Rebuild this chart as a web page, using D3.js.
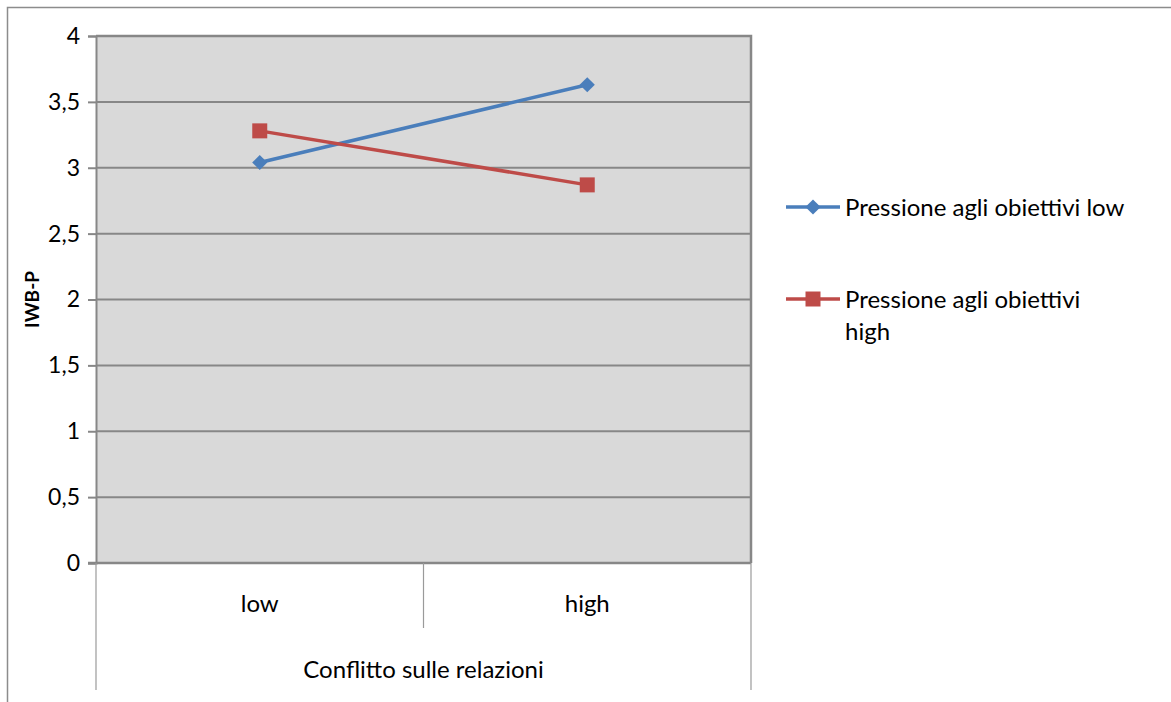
<!doctype html>
<html lang="it">
<head>
  <meta charset="UTF-8">
  <script src="https://cdn.jsdelivr.net/npm/d3@7"></script>
  <title>IWB-P</title>
  <style>
    body{ margin:0; background:#fff; }
    svg text{ font-family: Lato, "Open Sans", sans-serif; fill:#000; }
  </style>
</head>
<body>
  <div class="chart"></div>
  <script>
    // data
    const categories = ['low', 'high'];
    const seriesNames = ['Pressione agli obiettivi low', 'Pressione agli obiettivi high'];
    const lowValues = [3.04, 3.63];
    const highValues = [3.28, 2.87];
    const yTicks = [0, 0.5, 1, 1.5, 2, 2.5, 3, 3.5, 4];
    const xTitle = 'Conflitto sulle relazioni';
    const yTitle = 'IWB-P';

    const W = 1171, H = 702;
    const plot = {x0: 96, x1: 751, y0: 36, y1: 563};
    const gridColor = '#878787';

    const svg = d3.select('.chart').append('svg')
      .attr('width', W).attr('height', H);

    // outer chart border (only top/left visible)
    svg.append('path').attr('d', `M7.5,${H} V7.5 H${W}`)
      .attr('fill', 'none').attr('stroke', '#8c8c8c').attr('stroke-width', 1.5);

    const x = d3.scaleBand().domain(categories).range([plot.x0, plot.x1]);
    const y = d3.scaleLinear().domain([0, 4]).range([plot.y1, plot.y0]);
    const fmt = d => String(d).replace('.', ',');

    svg.append('rect')
      .attr('x', plot.x0).attr('y', plot.y0)
      .attr('width', plot.x1 - plot.x0).attr('height', plot.y1 - plot.y0)
      .attr('fill', '#d9d9d9');

    // gridlines
    svg.append('g').selectAll('line').data(yTicks.filter(d => d > 0)).enter().append('line')
      .attr('x1', plot.x0).attr('x2', plot.x1)
      .attr('y1', d => y(d)).attr('y2', d => y(d))
      .attr('stroke', gridColor).attr('stroke-width', 2);

    // plot border right/top
    svg.append('path').attr('d', `M${plot.x0},${plot.y0} H${plot.x1} V${plot.y1}`)
      .attr('fill', 'none').attr('stroke', gridColor).attr('stroke-width', 2.5);

    // y axis
    const yAxis = d3.axisLeft(y).tickValues(yTicks).tickFormat(fmt).tickSize(8).tickPadding(8);
    const gy = svg.append('g').attr('transform', `translate(${plot.x0},0)`).call(yAxis);
    gy.select('.domain').attr('stroke', gridColor).attr('stroke-width', 2);
    gy.selectAll('.tick line').attr('stroke', gridColor).attr('stroke-width', 2);
    gy.selectAll('.tick text').attr('font-size', 23).style('font-family', 'Lato, sans-serif');

    // x axis line
    svg.append('line').attr('x1', plot.x0 - 8).attr('x2', plot.x1)
      .attr('y1', plot.y1).attr('y2', plot.y1)
      .attr('stroke', gridColor).attr('stroke-width', 2.5);

    // category separators
    const bounds = [plot.x0, x(categories[1]), plot.x1];
    svg.append('g').selectAll('line').data(bounds).enter().append('line')
      .attr('x1', d => d).attr('x2', d => d)
      .attr('y1', plot.y1).attr('y2', (d, i) => i === 1 ? 628 : 690)
      .attr('stroke', '#9a9a9a').attr('stroke-width', 1.2);

    svg.append('g').selectAll('text').data(categories).enter().append('text')
      .attr('x', d => x(d) + x.bandwidth() / 2).attr('y', 612)
      .attr('text-anchor', 'middle').attr('font-size', 24).text(d => d);

    svg.append('text').attr('x', (plot.x0 + plot.x1) / 2).attr('y', 678)
      .attr('text-anchor', 'middle').attr('font-size', 24).text(xTitle);

    svg.append('text').attr('transform', `translate(39,${(plot.y0 + plot.y1) / 2}) rotate(-90)`)
      .attr('text-anchor', 'middle').attr('font-size', 19).attr('font-weight', 'bold').text(yTitle);

    // series
    const series = [
      {name: seriesNames[0], values: lowValues, color: '#4a7ebb', rot: 45, size: 115},
      {name: seriesNames[1], values: highValues, color: '#be4b48', rot: 0, size: 225}
    ];
    const cx = d => x(d) + x.bandwidth() / 2;
    const line = d3.line().x(d => cx(d.c)).y(d => y(d.v));

    series.forEach(s => {
      const pts = categories.map((c, i) => ({c, v: s.values[i]}));
      svg.append('path').attr('d', line(pts))
        .attr('fill', 'none').attr('stroke', s.color).attr('stroke-width', 3.5);
      svg.append('g').selectAll('path').data(pts).enter().append('path')
        .attr('d', d3.symbol().type(d3.symbolSquare).size(s.size))
        .attr('transform', d => `translate(${cx(d.c)},${y(d.v)}) rotate(${s.rot})`)
        .attr('fill', s.color);
    });

    // legend
    const legendY = [207, 299];
    const lg = svg.append('g').selectAll('g').data(series).enter().append('g')
      .attr('transform', (d, i) => `translate(786,${legendY[i]})`);
    lg.append('line').attr('x1', 0).attr('x2', 54)
      .attr('stroke', d => d.color).attr('stroke-width', 3.5);
    lg.append('path')
      .attr('d', d => d3.symbol().type(d3.symbolSquare).size(d.size)())
      .attr('transform', d => `translate(27,0) rotate(${d.rot})`).attr('fill', d => d.color);
    const lt = lg.append('text').attr('x', 59).attr('y', 9).attr('font-size', 24);
    lt.each(function(d, i) {
      const t = d3.select(this);
      if (i === 0) t.text(d.name);
      else {
        const parts = d.name.split(' ');
        t.append('tspan').attr('x', 59).text(parts.slice(0, 3).join(' '));
        t.append('tspan').attr('x', 59).attr('dy', 32).text(parts[3]);
      }
    });
  </script>
</body>
</html>
